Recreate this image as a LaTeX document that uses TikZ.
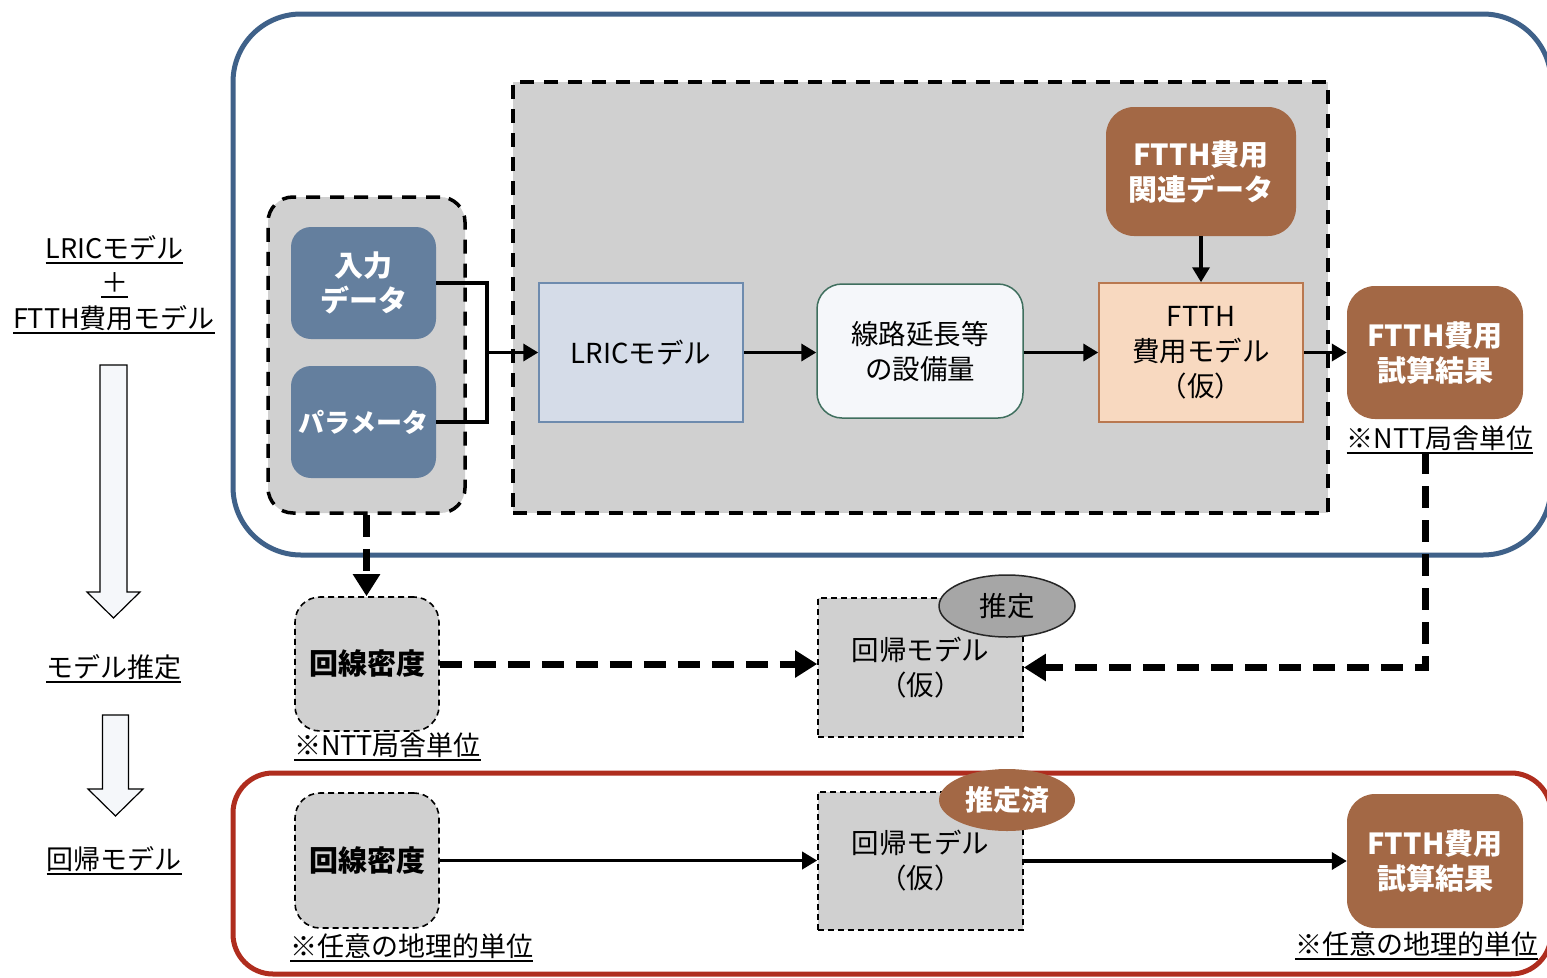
\documentclass[tikz,border=0pt]{standalone}
\usepackage{fontspec}
\setmainfont{Noto Sans CJK JP}
\usetikzlibrary{arrows.meta,shapes.geometric}
\definecolor{bline}{RGB}{63,97,137}
\definecolor{rline}{RGB}{175,45,30}
\definecolor{gfill}{RGB}{208,208,208}
\definecolor{bfill}{RGB}{100,127,158}
\definecolor{mybrown}{RGB}{163,104,69}
\definecolor{peach}{RGB}{248,217,192}
\definecolor{peachline}{RGB}{185,120,80}
\definecolor{lfill}{RGB}{213,220,232}
\definecolor{lline}{RGB}{110,139,174}
\definecolor{sfill}{RGB}{245,247,250}
\definecolor{sline}{RGB}{63,111,94}
\definecolor{efill}{RGB}{166,166,166}
\definecolor{afill}{RGB}{245,247,250}
\newcommand\myul[1]{\setbox0\hbox{#1}\leavevmode\rlap{\vrule width\wd0 height -4pt depth 6pt}\box0}
\tikzset{
  txt/.style={font=\fontsize{27.5}{35}\selectfont, inner sep=0pt, align=center},
  btxt/.style={font=\fontsize{29}{35}\selectfont\bfseries, inner sep=0pt, align=center},
  bluebox/.style={btxt, text=white, fill=bfill, draw=none, rounded corners=20},
  brownbox/.style={btxt, text=white, fill=mybrown, draw=none, rounded corners=28},
  groupbox/.style={fill=gfill, draw=black, line width=3.5, dash pattern=on 14 off 10, rounded corners=25},
  bigbox/.style={fill=gfill, draw=black, line width=3.5, dash pattern=on 14 off 10},
  thinbox/.style={txt, fill=gfill, draw=black, line width=1.6, dash pattern=on 6 off 4},
  conn/.style={line width=3.5, -{Triangle[length=15,width=17]}},
  plain/.style={line width=3.5},
  thickdash/.style={line width=7, dash pattern=on 22 off 12, -{Triangle[length=22,width=26]}},
  blockarrow/.style={fill=afill, draw=black, line width=1.2},
  note/.style={txt, font=\fontsize{27}{35}\selectfont, anchor=base}
}
\begin{document}
\begin{tikzpicture}[x=1pt,y=-1pt]
\useasboundingbox (0,0) rectangle (1547,977);

% outer frames
\draw[bline, line width=5, rounded corners=68] (233,14) rectangle (1551,555);
\draw[rline, line width=5, rounded corners=40] (233,773) rectangle (1551,974);

% big dashed area
\node[bigbox, minimum width=815, minimum height=431, inner sep=0] (big) at (920.5,297.5) {};
% left group
\node[groupbox, minimum width=197, minimum height=316, inner sep=0] (grp) at (366.5,355) {};

\node[bluebox, minimum width=145, minimum height=112] (in) at (363.5,283) {入力\\データ};
\node[bluebox, font=\fontsize{26}{35}\selectfont\bfseries, minimum width=145, minimum height=112] (par) at (363.5,422) {パラメータ};

\node[txt, fill=lfill, draw=lline, line width=1.5, minimum width=204, minimum height=139] (lric) at (641,352.5) {LRICモデル};
\node[txt, fill=sfill, draw=sline, line width=1.5, rounded corners=25, minimum width=206, minimum height=134] (sen) at (920,351) {線路延長等\\の設備量};
\node[txt, fill=peach, draw=peachline, line width=1.5, minimum width=204, minimum height=139] (ftm) at (1201,352.5) {FTTH\\費用モデル\\（仮）};
\node[brownbox, minimum width=190, minimum height=129] (ftd) at (1201,171.5) {FTTH費用\\関連データ};
\node[brownbox, minimum width=176, minimum height=133] (res1) at (1435,352.5) {FTTH費用\\試算結果};
\node[note] (n1) at (1440,448) {\myul{※NTT局舎単位}};

% middle row
\node[thinbox, btxt, rounded corners=25, minimum width=144, minimum height=134] (den1) at (367,664) {回線密度};
\node[note] (n2) at (387.5,755) {\myul{※NTT局舎単位}};
\node[thinbox, minimum width=205, minimum height=139] (reg1) at (920.5,667.5) {回帰モデル\\（仮）};
\node[txt, ellipse, fill=efill, draw=black!85, line width=1.5, minimum width=136, minimum height=62] (est1) at (1007,606) {推定};

% bottom row
\node[thinbox, btxt, rounded corners=25, minimum width=144, minimum height=135] (den2) at (367,860.5) {回線密度};
\node[note] (n3) at (411.5,956) {\myul{※任意の地理的単位}};
\node[thinbox, minimum width=205, minimum height=138] (reg2) at (920.5,861) {回帰モデル\\（仮）};
\node[btxt, font=\fontsize{28}{35}\selectfont\bfseries, text=white, ellipse, fill=mybrown, draw=none, minimum width=136, minimum height=62] (est2) at (1007,800) {推定済};
\node[brownbox, minimum width=176, minimum height=134] (res2) at (1435,861) {FTTH費用\\試算結果};
\node[note] (n4) at (1416.5,954) {\myul{※任意の地理的単位}};

% connectors top
\coordinate (j) at (487,352.5);
\draw[plain] (in.east) -| (j);
\draw[plain] (par.east) -| (j);
\draw[conn] (j) -- (lric.west);
\draw[conn] (lric.east) -- (lric.east -| sen.west);
\draw[conn] (sen.east |- ftm.west) -- (ftm.west);
\draw[conn] (ftd.south) -- (ftm.north);
\draw[conn] (ftm.east) -- (res1.west);

% thick dashed connectors
\coordinate (c1) at (1425,452);
\draw[thickdash] (c1) |- (reg1.east);
\draw[thickdash] (grp.south) -- (grp.south |- den1.north);
\draw[thickdash] (den1.east) -- (den1.east -| reg1.west);

% bottom connectors
\draw[conn] (den2.east) -- (den2.east -| reg2.west);
\draw[conn] (reg2.east) -- (reg2.east -| res2.west);

% left column
\node[note] (l1) at (114.5,258) {\myul{LRICモデル}};
\node[note] (l2) at (114.5,292) {\myul{＋}};
\node[note] (l3) at (114,328) {\myul{FTTH費用モデル}};
\draw[blockarrow] (100,365) -- (127,365) -- (127,592) -- (140,592) -- (113.5,618) -- (87,592) -- (100,592) -- cycle;
\node[note] (l4) at (113.5,677) {\myul{モデル推定}};
\draw[blockarrow] (102.5,715) -- (128.5,715) -- (128.5,789) -- (143,789) -- (115.5,816) -- (88,789) -- (102.5,789) -- cycle;
\node[note] (l5) at (114,869) {\myul{回帰モデル}};
\end{tikzpicture}
\end{document}
